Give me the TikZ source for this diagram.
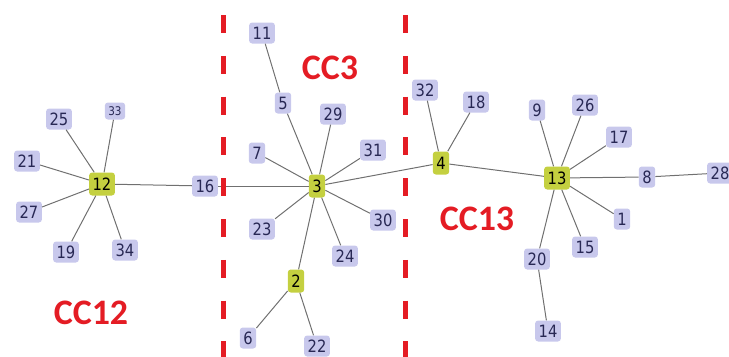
\documentclass[tikz,border=0pt]{standalone}
\usepackage{fontspec}
\setsansfont{DejaVu Sans}[FakeStretch=0.87]
\newfontfamily\ccfont{Carlito}
\definecolor{leafblue}{RGB}{200,200,236}
\definecolor{hubgreen}{RGB}{196,208,64}
\definecolor{numink}{RGB}{40,40,84}
\definecolor{cutred}{RGB}{228,28,36}
\definecolor{edgegray}{RGB}{112,112,112}
\tikzset{
	leaf/.style={fill=leafblue, rounded corners=3bp, inner xsep=3.5bp, inner ysep=0pt, minimum height=21bp, text=numink, font=\sffamily\fontsize{17}{17}\selectfont},
	hub/.style={leaf, fill=hubgreen, text=black, minimum height=23bp},
	smallleaf/.style={leaf, font=\sffamily\fontsize{12}{12}\selectfont, minimum height=17bp},
	link/.style={draw=edgegray, line width=1bp},
	cut/.style={draw=cutred, line width=5bp, dash pattern=on 18bp off 22.8bp},
	cclabel/.style={text=cutred, font=\ccfont\bfseries\fontsize{36}{36}\selectfont}
}

\begin{document}
\begin{tikzpicture}[x=1bp, y=-1bp]
				\useasboundingbox (0,0) rectangle (729,356);
				\clip (0,0) rectangle (729,356);
				
				\node[hub] (n12) at (102,184) {12};
				\node[leaf] (n25) at (59,119) {25};
				\node[smallleaf] (n33) at (115,111) {33};
				\node[leaf] (n21) at (27,161) {21};
				\node[leaf] (n27) at (29,212) {27};
				\node[leaf] (n19) at (66,252) {19};
				\node[leaf] (n34) at (125,250) {34};
				\node[leaf] (n16) at (205,186) {16};
				
				\node[hub] (n3) at (317,186) {3};
				\node[leaf] (n11) at (262,33) {11};
				\node[leaf] (n5) at (283,103) {5};
				\node[leaf] (n29) at (333,114) {29};
				\node[leaf] (n7) at (257,153) {7};
				\node[leaf] (n31) at (373,150) {31};
				\node[leaf] (n23) at (262,229) {23};
				\node[leaf] (n30) at (383,220) {30};
				\node[leaf] (n24) at (345,256) {24};
				\node[hub] (n2) at (296,281) {2};
				\node[leaf] (n6) at (248,338) {6};
				\node[leaf] (n22) at (317,346) {22};
				
				\node[hub] (n4) at (441,163) {4};
				\node[leaf] (n32) at (425,90) {32};
				\node[leaf] (n18) at (476,102) {18};
				\node[hub] (n13) at (557,178) {13};
				\node[leaf] (n9) at (537,110) {9};
				\node[leaf] (n26) at (585,105) {26};
				\node[leaf] (n17) at (619,137) {17};
				\node[leaf] (n8) at (647,177) {8};
				\node[leaf] (n28) at (720,173) {28};
				\node[leaf] (n1) at (622,219) {1};
				\node[leaf] (n15) at (585,247) {15};
				\node[leaf] (n20) at (537,259) {20};
				\node[leaf] (n14) at (548,331) {14};
				
				\foreach \a/\b in {n12/n25, n12/n33, n12/n21, n12/n27, n12/n19, n12/n34, n12/n16,
					n16/n3, n3/n5, n5/n11, n3/n29, n3/n7, n3/n31, n3/n23, n3/n30, n3/n24, n3/n2, n2/n6, n2/n22,
					n3/n4, n4/n32, n4/n18, n4/n13, n13/n9, n13/n26, n13/n17, n13/n8, n8/n28,
					n13/n1, n13/n15, n13/n20, n20/n14}
					\draw[link] (\a) -- (\b);
				
				\coordinate (cutA) at (223,15);
				\coordinate (cutB) at (405,15);
				\draw[cut] (cutA) -- (cutA |- 0,360);
				\draw[cut] (cutB) -- (cutB |- 0,360);
				
				\node[cclabel] (cc12) at (91,313) {CC12};
				\node[cclabel] (cc3) at (330,68) {CC3};
				\node[cclabel] (cc13) at (477,219) {CC13};
			\end{tikzpicture}
\end{document}
